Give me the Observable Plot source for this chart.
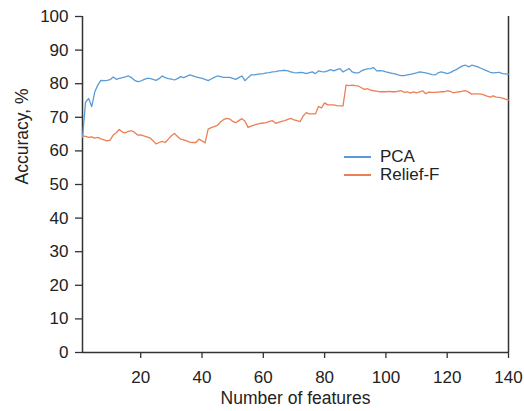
<!DOCTYPE html>
<html>
<head>
<meta charset="utf-8">
<script src="https://cdn.jsdelivr.net/npm/d3@7"></script>
<script src="https://cdn.jsdelivr.net/npm/@observablehq/plot@0.6"></script>
<style>
  html, body { margin: 0; padding: 0; background: #fff; }
  #wrap { position: relative; width: 524px; height: 411px; font-family: "Liberation Sans", Arial, sans-serif; }
  .leg { position: absolute; left: 344px; display: flex; align-items: center; font-size: 17px; line-height: 16px; color: #222; height: 16px; }
  .leg span.sw { display: inline-block; width: 27px; height: 1.5px; margin-right: 9px; }
</style>
</head>
<body>
<div id="wrap"></div>
<script>
const features = d3.range(1, 141);
const pca = [
  64, 74.5, 75.6, 73.2, 77.5, 79.6, 81, 80.9, 81, 81.2,
  82, 81.3, 81.6, 81.8, 82.0, 82.3, 81.8, 81.0, 80.6, 80.8,
  81.2, 81.6, 81.6, 81.3, 81.0, 81.5, 82.3, 81.8, 81.5, 81.4,
  81.1, 81.5, 82.1, 81.8, 82.2, 82.6, 82.3, 82.0, 81.8, 81.6,
  81.3, 80.9, 81.4, 81.9, 82.3, 82.1, 81.9, 81.9, 81.9, 81.6,
  81.3, 81.8, 82.3, 80.9, 81.8, 82.6, 82.6, 82.8, 82.9, 83.0,
  83.2, 83.3, 83.5, 83.6, 83.8, 83.9, 84.0, 83.8, 83.5, 83.3,
  83.2, 83.4, 83.3, 83.0, 83.3, 83.5, 83.0, 83.8, 83.6, 83.5,
  83.8, 84.2, 83.8, 84.2, 84.5, 83.5, 84.0, 84.5, 83.5, 83.2,
  83.2, 83.8, 84.2, 84.4, 84.5, 84.8, 83.8, 83.9, 83.8, 83.5,
  83.3, 83.1, 82.9, 82.6, 82.4, 82.4, 82.6, 82.8, 83.0, 83.2,
  83.5, 83.4, 83.2, 83.0, 82.7, 82.6, 83.2, 83.5, 83.3, 83.0,
  83.3, 83.8, 84.2, 84.8, 85.3, 85.5, 85.0, 85.5, 85.3, 85.0,
  84.6, 84.2, 83.8, 83.4, 83.2, 83.3, 83.4, 83.0, 82.9, 82.8
];
const relief = [
  64.5, 64.3, 64.0, 64.2, 63.8, 64.0, 63.6, 63.3, 63.0, 63.2,
  64.7, 65.4, 66.4, 65.6, 65.4, 65.8, 66.0, 65.5, 64.7, 64.8,
  64.5, 64.2, 63.9, 63.0, 62.1, 62.5, 62.8, 62.5, 63.5, 64.5,
  65.2, 64.3, 63.5, 63.3, 63.0, 62.6, 62.5, 62.5, 63.5, 63.0,
  62.4, 66.5, 66.9, 67.2, 67.6, 68.6, 69.3, 69.7, 69.5, 68.8,
  68.4, 69.0, 69.6, 68.9, 67.0, 67.4, 67.7, 68.0, 68.2, 68.3,
  68.4, 68.8, 69.0, 68.2, 68.5, 68.8, 69.0, 69.4, 69.7, 69.2,
  69.0, 68.7, 70.4, 71.4, 71.0, 71.0, 71.0, 73.2, 72.8, 74.3,
  73.7, 73.7, 73.7, 73.5, 73.4, 73.4, 79.6, 79.4, 79.6, 79.4,
  79.3, 78.8, 78.3, 78.5, 78.1, 77.9, 77.8, 77.6, 77.6, 77.6,
  77.7, 77.6, 77.6, 77.8, 77.9, 77.4, 77.6, 77.2, 77.6, 77.3,
  77.6, 77.9, 77.0, 77.5, 77.4, 77.4, 77.5, 77.6, 77.6, 77.9,
  77.7, 77.3, 77.5, 77.6, 77.8, 77.9, 77.5, 76.9, 77.0, 77.0,
  76.9, 76.7, 76.3, 76.0, 76.4, 76.0, 75.9, 75.7, 75.4, 75.1
];
const seriesNames = ["PCA", "Relief-F"];
const seriesColors = ["#5b9bd5", "#eb7f55"];
const xTicks = [20, 40, 60, 80, 100, 120, 140];
const yTicks = [0, 10, 20, 30, 40, 50, 60, 70, 80, 90, 100];
const xTitle = "Number of features";
const yTitle = "Accuracy, %";

const rows = [];
features.forEach((f, i) => {
  rows.push({feature: f, value: pca[i], series: seriesNames[0]});
});
features.forEach((f, i) => {
  rows.push({feature: f, value: relief[i], series: seriesNames[1]});
});

const axisColor = "#333";
const chart = Plot.plot({
  width: 524,
  height: 411,
  marginLeft: 82,
  marginRight: 16,
  marginTop: 16,
  marginBottom: 59,
  style: {fontFamily: "Liberation Sans, Arial, sans-serif", fontSize: "17px", color: "#222", background: "#fff"},
  x: {domain: [1, 140]},
  y: {domain: [0, 100]},
  color: {domain: seriesNames, range: seriesColors},
  marks: [
    Plot.axisX({ticks: xTicks, tickSize: 6, tickPadding: 12, label: null, stroke: axisColor, strokeWidth: 1.3}),
    Plot.axisY({ticks: yTicks, tickSize: 7, tickPadding: 7, label: null, stroke: axisColor, strokeWidth: 1.3}),
    Plot.ruleX([1], {stroke: axisColor, strokeWidth: 1.5}),
    Plot.ruleX([140], {stroke: axisColor, strokeWidth: 1.5}),
    Plot.ruleY([0], {stroke: axisColor, strokeWidth: 1.5}),
    Plot.line(rows, {x: "feature", y: "value", z: "series", stroke: "series", strokeWidth: 1.3}),
    Plot.text([xTitle], {frameAnchor: "bottom", dy: 51, fontSize: 17.5, fill: "#222"}),
    Plot.text([yTitle], {frameAnchor: "left", dx: -60, rotate: -90, fontSize: 17.5, fill: "#222"})
  ]
});
const wrap = document.getElementById("wrap");
wrap.appendChild(chart);

const legTops = [149, 167];
seriesNames.forEach((name, i) => {
  const d = document.createElement("div");
  d.className = "leg";
  d.style.top = legTops[i] + "px";
  const sw = document.createElement("span");
  sw.className = "sw";
  sw.style.background = seriesColors[i];
  d.appendChild(sw);
  d.appendChild(document.createTextNode(name));
  wrap.appendChild(d);
});
</script>
</body>
</html>
